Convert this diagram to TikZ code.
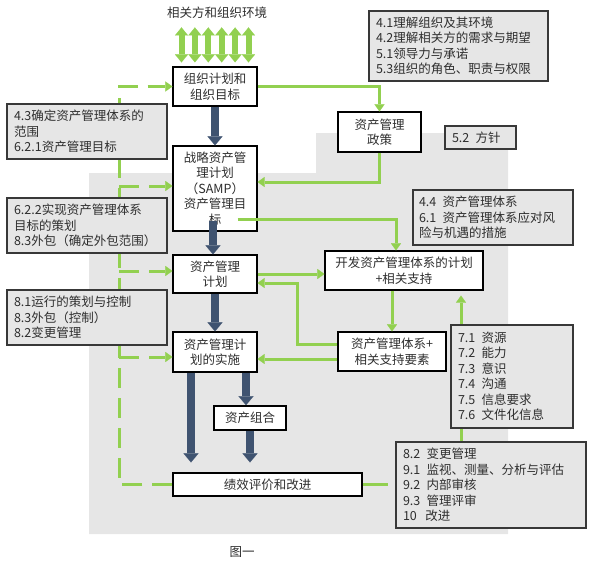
\documentclass[tikz,border=0pt]{standalone}
\usepackage{fontspec}
\setmainfont{Noto Sans CJK SC}
\usepackage{tikz}
\usetikzlibrary{arrows.meta,calc}
\definecolor{ink}{HTML}{2E2E2E}
\definecolor{leaf}{HTML}{92D050}
\definecolor{slate}{HTML}{3F5370}
\definecolor{paper}{HTML}{E6E6E6}
\definecolor{frame}{HTML}{383838}
\newcommand{\cjksize}{\fontsize{12.5}{15.5}\selectfont}
\tikzset{>=Triangle,
  stage/.style={draw=black,fill=white,line width=1.2pt,align=center,inner sep=2pt,text=ink,font=\cjksize},
  clause/.style={draw=frame,fill=paper,line width=1.2pt,align=left,inner xsep=7pt,inner ysep=2pt,text=ink,font=\cjksize},
  feed/.style={draw=leaf,line width=3pt,-{Triangle[length=7pt,width=10pt,line width=0.1pt]}},
  loopback/.style={feed,dash pattern=on 20pt off 10pt},
  main/.style={draw=slate,line width=8pt,-{Triangle[length=9pt,width=15pt,line width=0.1pt]}},
  env/.style={draw=leaf,line width=6pt,{Triangle[length=8pt,width=13pt,line width=0.1pt]}-{Triangle[length=8pt,width=13pt,line width=0.1pt]}}}

\begin{document}
\begin{tikzpicture}[x=1pt,y=-1pt]
  \useasboundingbox (0,0) rectangle (591,566);
  \fill[paper] (89,173) -- (316,173) -- (316,133) -- (508,133) -- (508,534) -- (89,534) -- cycle;
  % main chain
  \node[stage,minimum width=84pt,minimum height=39pt] (org) at (215,86.5) {组织计划和\\组织目标};
  \node[stage,minimum width=84pt,minimum height=85pt] (samp) at (215,188.5) {战略资产管\\理计划\\（SAMP）\\资产管理目\\标};
  \node[stage,minimum width=84pt,minimum height=38pt] (plan) at (215,274) {资产管理\\计划};
  \node[stage,minimum width=84pt,minimum height=40pt] (impl) at (215,352) {资产管理计\\划的实施};
  \node[stage,minimum width=72pt,minimum height=24pt,line width=1.6pt] (port) at (250,418) {资产组合};
  \node[stage,minimum width=189pt,minimum height=23pt] (eval) at (267.5,484.5) {绩效评价和改进};
  \node[stage,minimum width=83pt,minimum height=40pt] (policy) at (379.5,132) {资产管理\\政策};
  \node[stage,minimum width=158pt,minimum height=39pt] (dev) at (404,270.5) {开发资产管理体系的计划\\+相关支持};
  \node[stage,minimum width=108pt,minimum height=39pt] (sys) at (392,351.5) {资产管理体系+\\相关支持要素};
  \node[font=\cjksize,text=ink] (env) at (217,13) {相关方和组织环境};
  \node[font=\cjksize,text=ink] (caption) at (242,552) {图一};
  % clauses on the right
  \node[clause,text width=165pt,minimum height=70pt] (c41) at (458.5,46) {4.1理解组织及其环境\\4.2理解相关方的需求与期望\\5.1领导力与承诺\\5.3组织的角色、职责与权限};
  \node[clause,text width=57pt,minimum height=23pt] (c52) at (480.5,137.5) {5.2\enspace 方针};
  \node[clause,inner xsep=6pt,text width=148pt,minimum height=55pt] (c44) at (493,217.5) {4.4\enspace 资产管理体系\\6.1\enspace 资产管理体系应对风\\险与机遇的措施};
  \node[clause,text width=176pt,minimum height=86pt] (c82) at (491,485) {8.2\enspace 变更管理\\9.1\enspace 监视、测量、分析与评估\\9.2\enspace 内部审核\\9.3\enspace 管理评审\\\makebox[16pt][l]{10}\enspace 改进};
  % stakeholders
  \foreach \dx in {-33.5,-20.1,-6.7,6.7,20.1,33.5}
    \draw[env] ($(org.north)+(\dx,-4)$) -- ($(org.north)+(\dx,-39)$);
  % green links on the right
  \coordinate (sampin) at ($(samp.east)+(0,-6.5)$);
  \coordinate (sampout) at ($(samp.east)+(-20,30.5)$);
  \coordinate (devin) at ($(dev.north)+(-8,0)$);
  \coordinate (sysup) at ($(sys.west)+(0,-7.5)$);
  \coordinate (syslow) at ($(sys.west)+(0,7.5)$);
  \coordinate (planin) at ($(plan.east)+(0,9)$);
  \coordinate (resin) at ($(c82.north)+(-30,0)$);
  \draw[feed] (org.east) -| (policy.north);
  \draw[feed] (policy.south) |- (sampin);
  \draw[feed] (sampout) -| (devin);
  \draw[feed] (plan.east) -- (plan.east -| dev.west);
  \draw[feed] (sys.north |- dev.south) -- (sys.north);
  \draw[feed] (sysup) -- ++(-40,0) |- (planin);
  \draw[feed] (syslow) -- (syslow -| impl.east);
  \draw[feed,-,shorten >=7pt] (eval.east) -- (eval.east -| c82.west);
  \draw[feed,shorten >=5pt] (resin) -- (resin |- dev.south);
  \node[clause,text width=108pt,minimum height=103pt] (c71) at (512,376.5) {7.1\enspace 资源\\7.2\enspace 能力\\7.3\enspace 意识\\7.4\enspace 沟通\\7.5\enspace 信息要求\\7.6\enspace 文件化信息};
  % dashed loop on the left
  \coordinate (spine) at (119,0);
  \coordinate (sampleft) at ($(samp.west)+(0,-2.5)$);
  \coordinate (planleft) at ($(plan.west)+(0,-3)$);
  \coordinate (implleft) at ($(impl.west)+(0,5)$);
  \draw[loopback] (eval.west) -| (spine |- org.west) -- (org.west);
  \draw[loopback] (spine |- sampleft) -- (sampleft);
  \draw[loopback] (spine |- planleft) -- (planleft);
  \draw[loopback] (spine |- implleft) -- (implleft);
  % clauses on the left
  \node[clause,text width=146pt,minimum height=55pt] (c43) at (87,131.5) {4.3确定资产管理体系的\\范围\\6.2.1资产管理目标};
  \node[clause,text width=146pt,minimum height=55pt] (c622) at (87,225.5) {6.2.2实现资产管理体系\\目标的策划\\8.3外包（确定外包范围）};
  \node[clause,text width=146pt,minimum height=55pt] (c81) at (87,317.5) {8.1运行的策划与控制\\8.3外包（控制）\\8.2变更管理};
  % heavy arrows
  \coordinate (sampbase) at ($(samp.south)+(-2,-11)$);
  \coordinate (impla) at ($(impl.south)+(-24,0)$);
  \coordinate (implb) at ($(impl.south)+(31,0)$);
  \draw[main] (org.south) -- (samp.north);
  \draw[main] (sampbase) -- (sampbase |- plan.north);
  \draw[main] (plan.south) -- (impl.north);
  \draw[main,shorten >=10pt] (impla) -- (impla |- eval.north);
  \draw[main] (implb) -- (implb |- port.north);
  \draw[main,shorten >=10pt] (port.south) -- (port.south |- eval.north);
\end{tikzpicture}
\end{document}
